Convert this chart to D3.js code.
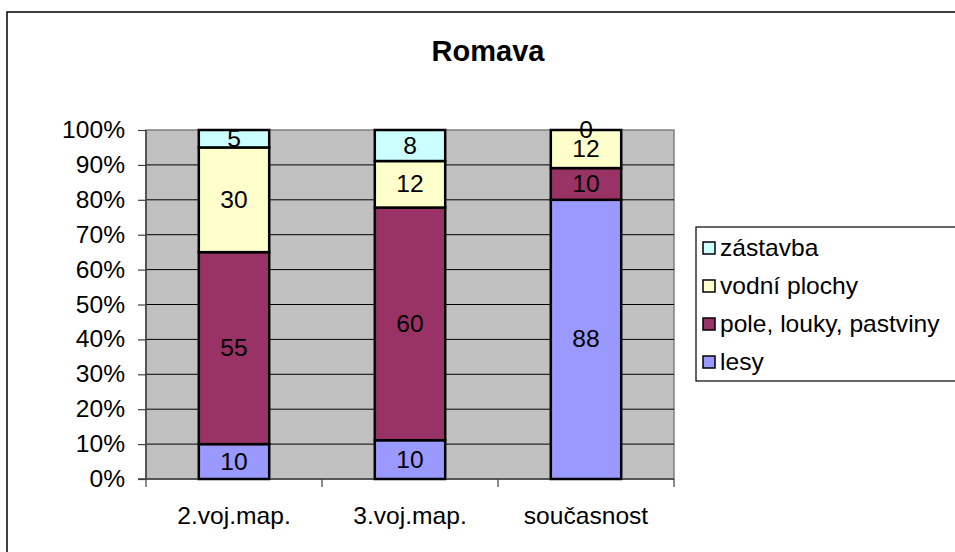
<!DOCTYPE html>
<html>
<head>
<meta charset="utf-8">
<script src="https://cdn.jsdelivr.net/npm/d3@7"></script>
<style>
	body { margin: 0; background: #fff; }
	svg { display: block; font-family: "Liberation Sans", Arial, sans-serif; }
</style>
</head>
<body>
<svg id="viz"></svg>
<script>
// categories and series (bottom to top)
const categories = ["2.voj.map.", "3.voj.map.", "současnost"];
const seriesNames = ["lesy", "pole, louky, pastviny", "vodní plochy", "zástavba"];
const lesy = [10, 10, 88];
const pole = [55, 60, 10];
const vodni = [30, 12, 12];
const zastavba = [5, 8, 0];
const yTicks = [0, 0.1, 0.2, 0.3, 0.4, 0.5, 0.6, 0.7, 0.8, 0.9, 1];
const colors = ["#9999ff", "#993366", "#ffffcc", "#ccffff"];

const width = 955;
const height = 552;
const plot = { left: 146, right: 674, top: 130, bottom: 479 };
const stretch = 1.07; // the original text is a little wider than Arial
const fontSize = 23;

const svg = d3.select("svg#viz")
	.attr("width", width)
	.attr("height", height);

// build rows for the stack
const values = [lesy, pole, vodni, zastavba];
const rows = categories.map(function(c, i) {
	let row = { cat: c };
	seriesNames.forEach((s, j) => row[s] = values[j][i]);
	return row;
});

const series = d3.stack()
	.keys(seriesNames)
	.offset(d3.stackOffsetExpand)(rows);

const x = d3.scaleBand()
	.domain(categories)
	.range([plot.left, plot.right]);

const y = d3.scaleLinear()
	.domain([0, 1])
	.range([plot.bottom, plot.top]);

const color = d3.scaleOrdinal().domain(seriesNames).range(colors);

const barWidth = x.bandwidth() * 0.4;

// outer frame
svg.append("rect")
	.attr("x", 7).attr("y", 12)
	.attr("width", 980).attr("height", 580)
	.attr("fill", "#fff")
	.attr("stroke", "#000")
	.attr("stroke-width", 1.5);

// plot background
svg.append("rect")
	.attr("x", plot.left).attr("y", plot.top)
	.attr("width", plot.right - plot.left)
	.attr("height", plot.bottom - plot.top)
	.attr("fill", "#c0c0c0")
	.attr("stroke", "#808080")
	.attr("stroke-width", 1.5);

// gridlines
svg.append("g").attr("id", "grid")
	.selectAll("line")
	.data(yTicks.slice(1, -1))
	.join("line")
	.attr("x1", plot.left).attr("x2", plot.right)
	.attr("y1", d => y(d)).attr("y2", d => y(d))
	.attr("stroke", "#000")
	.attr("stroke-width", 1);

// y axis
const yAxis = d3.axisLeft(y)
	.tickValues(yTicks)
	.tickSize(8)
	.tickFormat(d => "");

const yg = svg.append("g")
	.attr("transform", translate(plot.left, 0))
	.call(yAxis);
yg.select(".domain").attr("stroke", "#404040").attr("stroke-width", 1.5).attr("d", `M-8,${plot.bottom}H0V${plot.top}`);
yg.selectAll(".tick line").attr("stroke", "#404040").attr("stroke-width", 1.2);

yTicks.forEach(function(t) {
	stretchedText(svg, 125, y(t) + 8, d3.format(".0%")(t), "end");
});

// x axis
const xAxis = d3.axisBottom(x).tickSize(0).tickFormat(d => "");
const xg = svg.append("g")
	.attr("transform", translate(0, plot.bottom))
	.call(xAxis);
xg.select(".domain").attr("stroke", "#404040").attr("stroke-width", 1.5).attr("d", `M${plot.left},0H${plot.right}`);

// category separators
const edges = categories.map(c => x(c)).concat([plot.right]);
xg.selectAll("line.sep")
	.data(edges)
	.join("line")
	.attr("class", "sep")
	.attr("x1", d => d).attr("x2", d => d)
	.attr("y1", 0).attr("y2", 8)
	.attr("stroke", "#404040")
	.attr("stroke-width", 1.2);

categories.forEach(function(c) {
	stretchedText(svg, x(c) + x.bandwidth() / 2, 524, c, "middle");
});

// bars
const layers = svg.append("g").attr("id", "bars")
	.selectAll("g")
	.data(series)
	.join("g")
	.attr("fill", d => color(d.key));

layers.selectAll("rect")
	.data(d => d)
	.join("rect")
	.attr("x", d => x(d.data.cat) + (x.bandwidth() - barWidth) / 2)
	.attr("y", d => y(d[1]))
	.attr("width", barWidth)
	.attr("height", d => y(d[0]) - y(d[1]))
	.attr("stroke", "#000")
	.attr("stroke-width", 2.5);

// data labels
series.forEach(function(s) {
	s.forEach(function(d) {
		let cx = x(d.data.cat) + x.bandwidth() / 2;
		let cy = (y(d[0]) + y(d[1])) / 2;
		stretchedText(svg, cx, cy + 8, d.data[s.key], "middle");
	});
});

// title
svg.append("text")
	.attr("x", 488).attr("y", 61)
	.attr("text-anchor", "middle")
	.attr("font-size", 29)
	.attr("font-weight", "bold")
	.text("Romava");

// legend
const legend = svg.append("g").attr("id", "legend");
legend.append("rect")
	.attr("x", 696).attr("y", 227)
	.attr("width", 300).attr("height", 154)
	.attr("fill", "#fff")
	.attr("stroke", "#000")
	.attr("stroke-width", 1.2);

const legendOrder = seriesNames.slice().reverse();
const legendY = d3.scalePoint()
	.domain(legendOrder)
	.range([256, 370]);

legend.selectAll("rect.sw")
	.data(legendOrder)
	.join("rect")
	.attr("class", "sw")
	.attr("x", 703)
	.attr("y", d => legendY(d) - 14)
	.attr("width", 12).attr("height", 12)
	.attr("fill", d => color(d))
	.attr("stroke", "#000")
	.attr("stroke-width", 1.5);

legendOrder.forEach(function(d) {
	stretchedText(legend, 720, legendY(d), d, "start");
});

function stretchedText(parent, tx, ty, str, anchor) {
	parent.append("text")
		.attr("transform", translate(tx, ty) + " scale(" + stretch + ",1)")
		.attr("text-anchor", anchor)
		.attr("font-size", fontSize)
		.attr("fill", "#000")
		.text(str);
}

function translate(a, b) {
	return "translate(" + a + "," + b + ")";
}
</script>
</body>
</html>
